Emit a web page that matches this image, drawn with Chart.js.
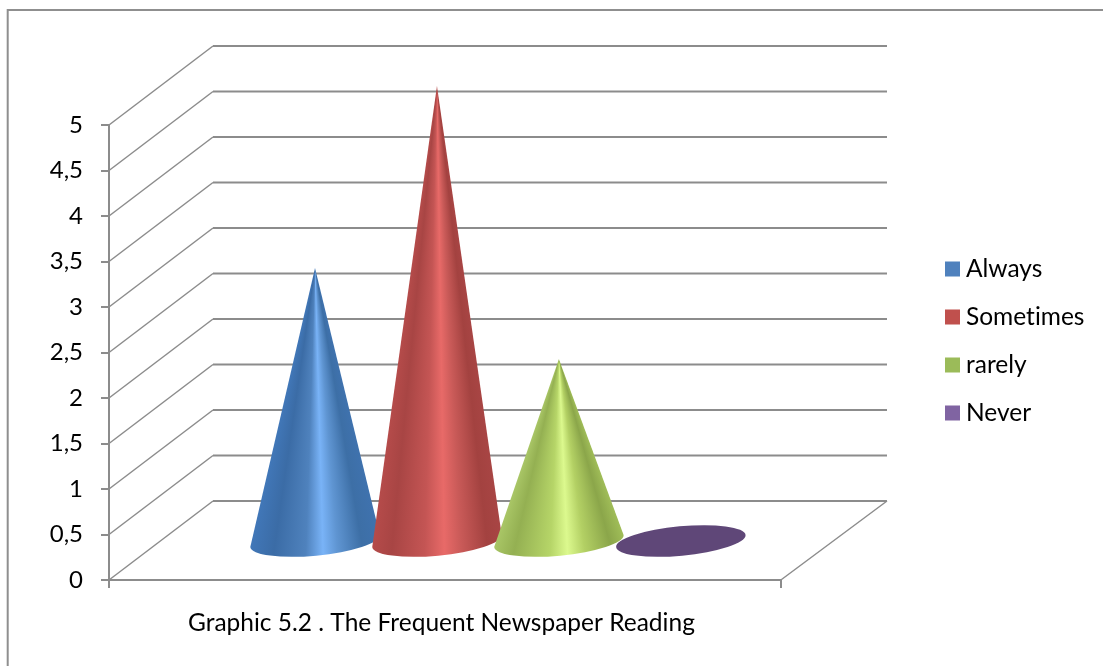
<!DOCTYPE html>
<html>
<head>
<meta charset="utf-8">
<title>Graphic 5.2</title>
<script src="https://cdn.jsdelivr.net/npm/chart.js@4/dist/chart.umd.min.js"></script>
<style>
  html, body { margin: 0; padding: 0; background: #fff; }
  canvas { display: block; }
</style>
</head>
<body>
<canvas id="chart" width="1103" height="666"></canvas>
<script>
const categories = ['Graphic 5.2 . The Frequent Newspaper Reading'];
const seriesNames = ['Always', 'Sometimes', 'rarely', 'Never'];
const seriesValues = [3, 5, 2, 0];
const seriesColors = ['#4f81bd', '#c0504d', '#9bbb59', '#8064a2'];

// shading across each cone, left edge to right edge
const coneShades = [
  [[0, '#4177b8'], [0.18, '#3b6ca6'], [0.42, '#4f82bd'], [0.55, '#79b3f7'], [0.66, '#5f95d2'], [0.85, '#3d6fa6'], [1, '#3f72ae']],
  [[0, '#b54b4a'], [0.15, '#a84544'], [0.4, '#c45554'], [0.55, '#e86a68'], [0.68, '#c95a58'], [0.88, '#a34240'], [1, '#a84544']],
  [[0, '#a9c666'], [0.15, '#94b052'], [0.42, '#b6d568'], [0.55, '#dcf98e'], [0.68, '#b3d064'], [0.88, '#8ba64a'], [1, '#a0bd58']],
  [[0, '#5f4778'], [1, '#5f4778']]
];

const GRID = '#8c8c8c';
const FONT = 'Lato, Carlito, sans-serif';
const FONT_SIZE = 24.5;

// fake 3D box: how far the back wall sits from the front plane
const DEPTH_X = 104;
const DEPTH_Y = 79;
const WALL_RIGHT = 887;
// cones stand halfway into the box
const CONE_X = 53;
const CONE_Y = 39;
const BASE_TILT = -5.3 * Math.PI / 180;

function drawFrame(ctx) {
  ctx.save();
  ctx.strokeStyle = '#8f8f8f';
  ctx.lineWidth = 2;
  ctx.beginPath();
  ctx.moveTo(7.7, 666);
  ctx.lineTo(7.7, 10);
  ctx.lineTo(1103, 10);
  ctx.stroke();
  ctx.restore();
}

function drawBox(chart) {
  const ctx = chart.ctx;
  const y = chart.scales.y;
  const left = chart.chartArea.left;
  const right = chart.chartArea.right;
  ctx.save();
  ctx.strokeStyle = GRID;
  y.ticks.forEach(t => {
    const py = y.getPixelForValue(t.value);
    ctx.lineWidth = 1.5;
    ctx.beginPath();
    ctx.moveTo(left, py);
    ctx.lineTo(left + DEPTH_X, py - DEPTH_Y);
    ctx.stroke();
    ctx.lineWidth = 2;
    ctx.beginPath();
    ctx.moveTo(left + DEPTH_X, py - DEPTH_Y);
    ctx.lineTo(WALL_RIGHT, py - DEPTH_Y);
    ctx.stroke();
  });
  // right edge of the floor
  const floor = y.getPixelForValue(0);
  ctx.lineWidth = 1.5;
  ctx.beginPath();
  ctx.moveTo(right, floor);
  ctx.lineTo(WALL_RIGHT, floor - DEPTH_Y);
  ctx.stroke();
  ctx.restore();
}

function drawCone(ctx, bar, floor, shades) {
  const cx = bar.x + CONE_X;
  const cy = floor - CONE_Y;
  const apexX = cx;
  const apexY = bar.y - CONE_Y;
  const a = bar.width * 0.533;
  const b = a * 0.226;
  const rx = cx + a * Math.cos(BASE_TILT);
  const ry = cy + a * Math.sin(BASE_TILT);
  const lx = cx - a * Math.cos(BASE_TILT);
  const ly = cy - a * Math.sin(BASE_TILT);

  ctx.save();
  if (cy - apexY < 1) {
    // nothing to shade on a zero value, only the base disc shows
    ctx.fillStyle = shades[0][1];
    ctx.beginPath();
    ctx.ellipse(cx, cy, a, b, BASE_TILT, 0, Math.PI * 2);
    ctx.fill();
  } else {
    const angR = Math.atan2(ry - apexY, rx - apexX);
    const angL = Math.atan2(ly - apexY, lx - apexX);
    const span = (angL - angR) / (Math.PI * 2);
    const grad = ctx.createConicGradient(angR, apexX, apexY);
    grad.addColorStop(0, shades[shades.length - 1][1]);
    shades.slice().reverse().forEach(s => grad.addColorStop((1 - s[0]) * span, s[1]));
    ctx.fillStyle = grad;
    ctx.beginPath();
    ctx.moveTo(apexX, apexY);
    ctx.ellipse(cx, cy, a, b, BASE_TILT, 0, Math.PI, false);
    ctx.closePath();
    ctx.fill();
  }
  ctx.restore();
}

const conePlugin = {
  id: 'cones',
  beforeDraw(chart) {
    // no "ti" ligature in the labels
    chart.ctx.textRendering = 'optimizeSpeed';
    drawFrame(chart.ctx);
  },
  afterLayout(chart) {
    // legend sits well clear of the plot, past the back wall
    const legend = chart.legend;
    const w = legend.right - legend.left;
    legend.left = 927.75;
    legend.right = 927.75 + w;
    legend.top = 8;
    legend.bottom = 674;
    legend.adjustHitBoxes();
  },
  beforeDatasetsDraw(chart) {
    drawBox(chart);
    const floor = chart.scales.y.getPixelForValue(0);
    // later series overlap earlier ones; the flat disc goes underneath
    const order = [3, 0, 1, 2];
    order.forEach(i => {
      const bar = chart.getDatasetMeta(i).data[0];
      drawCone(chart.ctx, bar, floor, coneShades[i]);
    });
    return false;
  }
};

new Chart(document.getElementById('chart'), {
  type: 'bar',
  data: {
    labels: categories,
    datasets: seriesNames.map((name, i) => ({
      label: name,
      data: [seriesValues[i]],
      backgroundColor: seriesColors[i],
      categoryPercentage: 0.726,
      barPercentage: 1
    }))
  },
  options: {
    responsive: false,
    animation: false,
    layout: { padding: { top: 125, right: 155, bottom: 0, left: 0 } },
    plugins: {
      tooltip: { enabled: false },
      title: { display: false },
      legend: {
        position: 'right',
        maxWidth: 172,
        labels: {
          usePointStyle: true,
          pointStyle: 'rect',
          boxWidth: 2.5,
          boxHeight: 15,
          padding: 23.5,
          color: '#000',
          font: { family: FONT, size: FONT_SIZE }
        }
      }
    },
    scales: {
      x: {
        afterFit(s) { s.height = 86; },
        grid: { color: GRID, lineWidth: 2, drawOnChartArea: false, tickLength: 8 },
        border: { color: GRID, width: 2 },
        ticks: { color: '#000', font: { family: FONT, size: FONT_SIZE }, padding: 20, labelOffset: -3.5, maxRotation: 0 }
      },
      y: {
        min: 0,
        max: 5,
        afterFit(s) { s.width = 109; },
        grid: { color: GRID, lineWidth: 2, drawOnChartArea: false, tickLength: 8 },
        border: { color: GRID, width: 2 },
        ticks: {
          stepSize: 0.5,
          color: '#000',
          font: { family: FONT, size: 24 },
          padding: 18,
          callback: v => String(v).replace('.', ',')
        }
      }
    }
  },
  plugins: [conePlugin]
});
</script>
</body>
</html>
